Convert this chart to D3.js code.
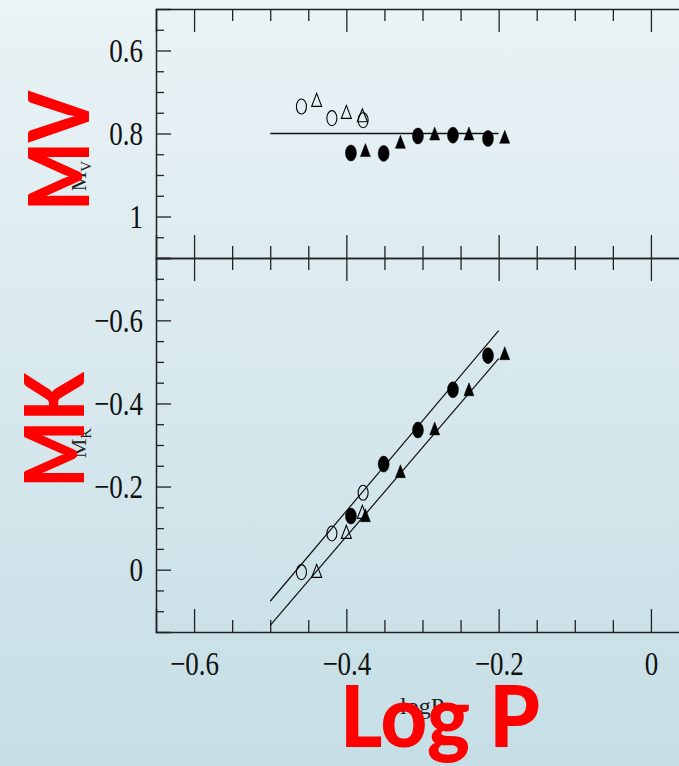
<!DOCTYPE html>
<html>
<head>
<meta charset="utf-8">
<script src="https://cdn.jsdelivr.net/npm/d3@7"></script>
<style>
  html, body { margin: 0; padding: 0; overflow: hidden; }
  .tick line { stroke: #222; stroke-width: 1.3; }
  .domain { stroke: #222; stroke-width: 1.5; }
</style>
</head>
<body>
<script>
// star data: open = first group, filled = second group
var openCircleLogP = [-0.459, -0.419, -0.378];
var openCircleMV   = [0.735, 0.763, 0.768];
var openCircleMK   = [0.006, -0.087, -0.185];

var openTriLogP = [-0.439, -0.400, -0.379];
var openTriMV   = [0.719, 0.748, 0.756];
var openTriMK   = [0.003, -0.091, -0.139];

var fillCircleLogP = [-0.394, -0.351, -0.306, -0.260, -0.214];
var fillCircleMV   = [0.847, 0.848, 0.806, 0.804, 0.812];
var fillCircleMK   = [-0.129, -0.254, -0.336, -0.433, -0.515];

var fillTriLogP = [-0.375, -0.329, -0.284, -0.239, -0.192];
var fillTriMV   = [0.840, 0.820, 0.800, 0.800, 0.808];
var fillTriMK   = [-0.131, -0.237, -0.340, -0.434, -0.521];

// fitted relations
var fitLogP    = [-0.5, -0.2];
var fitMV      = [0.8, 0.8];
var fitMKcirc  = [0.076, -0.575];
var fitMKtri   = [0.134, -0.508];

// ticks
var xMajor = [-0.6, -0.4, -0.2, 0];
var xMajorLabels = ["\u22120.6", "\u22120.4", "\u22120.2", "0"];
var xMinor = [-0.55, -0.5, -0.45, -0.35, -0.3, -0.25, -0.15, -0.1, -0.05];
var vMajor = [0.6, 0.8, 1.0];
var vMajorLabels = ["0.6", "0.8", "1"];
var vMinor = [0.55, 0.65, 0.7, 0.75, 0.85, 0.9, 0.95, 1.05];
var kMajor = [-0.6, -0.4, -0.2, 0];
var kMajorLabels = ["\u22120.6", "\u22120.4", "\u22120.2", "0"];
var kMinor = [-0.7, -0.65, -0.55, -0.5, -0.45, -0.35, -0.3, -0.25, -0.15, -0.1, -0.05, 0.05, 0.1];

var width = 679, height = 766;
var left = 156, right = 689, top1 = 9, mid = 258, bottom = 632;

var svg = d3.select("body").append("svg")
    .attr("width", width).attr("height", height);

var grad = svg.append("defs").append("linearGradient")
    .attr("id", "bg").attr("x1", 0).attr("y1", 0).attr("x2", 0).attr("y2", 1);
grad.append("stop").attr("offset", "0%").attr("stop-color", "#eaf3f6");
grad.append("stop").attr("offset", "100%").attr("stop-color", "#c5dee5");

svg.append("rect").attr("width", width).attr("height", height).attr("fill", "url(#bg)");

var x = d3.scaleLinear().domain([-0.65, 0.05]).range([left, right]);
var yV = d3.scaleLinear().domain([0.5, 1.1]).range([top1, mid]);
var yK = d3.scaleLinear().domain([-0.75, 0.15]).range([mid, bottom]);

var labelFont = "'Liberation Serif', 'Times New Roman', serif";

function stretchLabels(sel) {
    sel.selectAll("text")
        .attr("font-family", labelFont)
        .attr("font-size", 27)
        .attr("fill", "#111")
        .attr("transform", "scale(1,1.25)");
}

function frameX(yPos, axisFn, withLabels) {
    var g = svg.append("g").attr("transform", "translate(0," + yPos + ")");
    g.call(axisFn(x).tickValues(xMajor).tickSizeOuter(0).tickSize(-23).tickPadding(15)
        .tickFormat(withLabels ? function(d, i) { return xMajorLabels[i]; } : ""));
    g.append("g").call(axisFn(x).tickValues(xMinor).tickSizeOuter(0).tickSize(-12).tickFormat(""))
        .select(".domain").remove();
    if (withLabels) stretchLabels(g);
    return g;
}

function frameY(scale, major, labels, minor) {
    var g = svg.append("g").attr("transform", "translate(" + left + ",0)");
    g.call(d3.axisLeft(scale).tickValues(major).tickSizeOuter(0).tickSize(-15).tickPadding(13)
        .tickFormat(function(d, i) { return labels[i]; }));
    g.append("g").call(d3.axisLeft(scale).tickValues(minor).tickSizeOuter(0).tickSize(-8).tickFormat(""))
        .select(".domain").remove();
    stretchLabels(g);
}

// frames
frameX(top1, d3.axisTop, false);
frameX(mid, d3.axisBottom, false);
frameX(mid, d3.axisTop, false);
frameX(bottom, d3.axisBottom, true);
frameY(yV, vMajor, vMajorLabels, vMinor);
frameY(yK, kMajor, kMajorLabels, kMinor);

// fit lines
var lineV = d3.line().x(function(d) { return x(d[0]); }).y(function(d) { return yV(d[1]); });
var lineK = d3.line().x(function(d) { return x(d[0]); }).y(function(d) { return yK(d[1]); });

svg.append("path").datum(d3.zip(fitLogP, fitMV)).attr("d", lineV)
    .attr("fill", "none").attr("stroke", "#111").attr("stroke-width", 1.5);
svg.append("path").datum(d3.zip(fitLogP, fitMKcirc)).attr("d", lineK)
    .attr("fill", "none").attr("stroke", "#111").attr("stroke-width", 1.2);
svg.append("path").datum(d3.zip(fitLogP, fitMKtri)).attr("d", lineK)
    .attr("fill", "none").attr("stroke", "#111").attr("stroke-width", 1.2);

// markers
function circles(logP, mag, scale, filled) {
    svg.append("g").selectAll("ellipse")
        .data(d3.zip(logP, mag)).enter().append("ellipse")
        .attr("cx", function(d) { return x(d[0]); })
        .attr("cy", function(d) { return scale(d[1]); })
        .attr("rx", filled ? 5.5 : 5)
        .attr("ry", filled ? 8 : 7.5)
        .attr("fill", filled ? "#000" : "none")
        .attr("stroke", "#000")
        .attr("stroke-width", filled ? 0.5 : 1.1);
}

function triangles(logP, mag, scale, filled) {
    var w = 5, h = 6.5;
    svg.append("g").selectAll("path")
        .data(d3.zip(logP, mag)).enter().append("path")
        .attr("d", function(d) {
            var cx = x(d[0]), cy = scale(d[1]);
            return "M" + cx + "," + (cy - h) + "L" + (cx + w) + "," + (cy + h) + "L" + (cx - w) + "," + (cy + h) + "Z";
        })
        .attr("fill", filled ? "#000" : "none")
        .attr("stroke", "#000")
        .attr("stroke-width", filled ? 0.5 : 1.1);
}

circles(openCircleLogP, openCircleMV, yV, false);
triangles(openTriLogP, openTriMV, yV, false);
circles(fillCircleLogP, fillCircleMV, yV, true);
triangles(fillTriLogP, fillTriMV, yV, true);

circles(openCircleLogP, openCircleMK, yK, false);
triangles(openTriLogP, openTriMK, yK, false);
circles(fillCircleLogP, fillCircleMK, yK, true);
triangles(fillTriLogP, fillTriMK, yK, true);

// original axis titles (partly hidden)
var mv = svg.append("text").attr("transform", "translate(86,176) rotate(-90)")
    .attr("text-anchor", "middle").attr("font-family", labelFont).attr("font-size", 22).attr("fill", "#222");
mv.append("tspan").text("M");
mv.append("tspan").attr("dy", 5).attr("font-size", 15).text("V");

var mk = svg.append("text").attr("transform", "translate(86,443) rotate(-90)")
    .attr("text-anchor", "middle").attr("font-family", labelFont).attr("font-size", 22).attr("fill", "#222");
mk.append("tspan").text("M");
mk.append("tspan").attr("dy", 5).attr("font-size", 15).text("K");

svg.append("text").attr("x", 422).attr("y", 714).attr("text-anchor", "middle")
    .attr("font-family", labelFont).attr("font-size", 24).attr("fill", "#222").text("logP");

// red overlay labels
var redFont = "Lato, 'Open Sans', sans-serif";
svg.append("text").attr("transform", "translate(89,151) rotate(-90)")
    .attr("text-anchor", "middle").attr("font-family", redFont).attr("font-weight", 900)
    .attr("font-size", 84).attr("fill", "#ff0000")
    .attr("textLength", 120).attr("lengthAdjust", "spacingAndGlyphs").text("MV");

svg.append("text").attr("transform", "translate(84,430) rotate(-90)")
    .attr("text-anchor", "middle").attr("font-family", redFont).attr("font-weight", 900)
    .attr("font-size", 82).attr("fill", "#ff0000")
    .attr("textLength", 115).attr("lengthAdjust", "spacingAndGlyphs").text("MK");

svg.append("text").attr("x", 340).attr("y", 747)
    .attr("font-family", redFont).attr("font-weight", 900)
    .attr("font-size", 86).attr("fill", "#ff0000")
    .attr("textLength", 200).attr("lengthAdjust", "spacingAndGlyphs").text("Log P");
</script>
</body>
</html>
